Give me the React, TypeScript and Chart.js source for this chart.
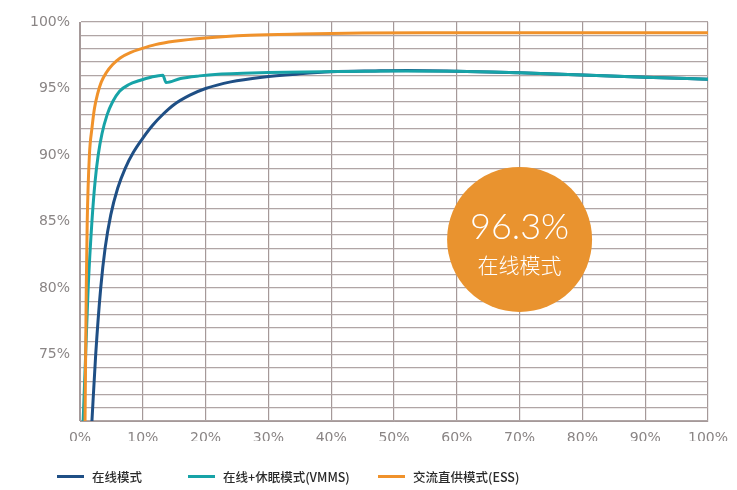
import React, { useEffect, useRef } from "react";
import { Chart, registerables } from "chart.js";

Chart.register(...registerables);

// ---- data ----
const seriesNames = ["在线模式", "在线+休眠模式(VMMS)", "交流直供模式(ESS)"];
const seriesColors = ["#1f4f85", "#17a3a7", "#f0922b"];

const onlineX = [1.9, 2.5, 3.3, 4.0, 4.9, 6.0, 7.2, 8.5, 9.9, 11.5, 13.3, 15, 17.5, 20, 24, 29, 35, 40, 47, 52, 60, 70, 80, 90, 100];
const onlineY = [70, 75, 80, 83, 85.5, 87.5, 89, 90.2, 91.2, 92.2, 93.1, 93.8, 94.5, 95.0, 95.5, 95.85, 96.1, 96.25, 96.32, 96.35, 96.3, 96.18, 96.02, 95.85, 95.7];

const vmmsX = [0.5, 0.9, 1.3, 1.9, 2.4, 2.9, 3.5, 4.3, 5.2, 6.3, 7.8, 9.5, 11.3, 13.2, 13.7, 16, 19, 22, 26, 30, 40, 50, 60, 70, 80, 90, 100];
const vmmsY = [70, 75, 80, 85, 88, 90, 91.6, 93, 94, 94.8, 95.3, 95.6, 95.85, 96.0, 95.45, 95.75, 95.95, 96.08, 96.15, 96.2, 96.27, 96.32, 96.3, 96.18, 96.02, 95.85, 95.7];

const essX = [0.8, 1.0, 1.15, 1.5, 1.9, 2.3, 2.8, 3.4, 4.2, 5.2, 6.4, 8, 9.8, 12, 15, 20, 27, 35, 45, 55, 70, 85, 100];
const essY = [70, 80, 85, 90, 92, 93.5, 94.6, 95.5, 96.2, 96.8, 97.3, 97.7, 98.0, 98.3, 98.55, 98.8, 99.0, 99.1, 99.17, 99.2, 99.2, 99.2, 99.2];

const xTickStep = 10;
const yLabelStep = 5;
const yMin = 70;
const yMax = 100;

const badgeValue = "96.3%";
const badgeLabel = "在线模式";
const badgeX = 70;
const badgeY = 83.65;

function toPoints(xs: number[], ys: number[]) {
  return xs.map((x, i) => ({ x, y: ys[i] }));
}

const badgePlugin = {
  id: "badge",
  afterDatasetsDraw(chart: any) {
    const { ctx, scales } = chart;
    const cx = scales.x.getPixelForValue(badgeX);
    const cy = scales.y.getPixelForValue(badgeY);
    ctx.save();
    ctx.beginPath();
    ctx.arc(cx, cy, 72.5, 0, Math.PI * 2);
    ctx.fillStyle = "#e9932f";
    ctx.fill();
    ctx.fillStyle = "#ffffff";
    ctx.textAlign = "center";
    ctx.textBaseline = "middle";
    ctx.font = "300 36px Lato, 'Open Sans', sans-serif";
    ctx.fillText(badgeValue, cx, cy - 12);
    ctx.font = "300 21px 'Noto Sans CJK SC', sans-serif";
    ctx.fillText(badgeLabel, cx, cy + 26);
    ctx.restore();
  },
};

export default function App() {
  const canvasRef = useRef<HTMLCanvasElement | null>(null);

  useEffect(() => {
    const canvas = canvasRef.current;
    if (!canvas) return;
    const gridColor = "#b0a5a5";
    const tickFont = { family: "'DejaVu Sans', sans-serif", size: 14 };
    const chart = new Chart(canvas, {
      type: "line",
      data: {
        datasets: [
          { label: seriesNames[0], data: toPoints(onlineX, onlineY), borderColor: seriesColors[0], order: 3 },
          { label: seriesNames[1], data: toPoints(vmmsX, vmmsY), borderColor: seriesColors[1], order: 2 },
          { label: seriesNames[2], data: toPoints(essX, essY), borderColor: seriesColors[2], order: 1 },
        ].map((d) => ({
          ...d,
          borderWidth: 3,
          pointRadius: 0,
          fill: false,
          cubicInterpolationMode: "monotone" as const,
          tension: 0.4,
        })),
      },
      options: {
        animation: false,
        responsive: false,
        maintainAspectRatio: false,
        layout: { padding: { top: 22, right: 25, left: 0, bottom: 49 } },
        plugins: { legend: { display: false }, tooltip: { enabled: false } },
        scales: {
          x: {
            type: "linear",
            min: 0,
            max: 100,
            afterFit: (s: any) => {
              s.height = 20;
            },
            grid: { color: "#a59999", lineWidth: 1.2, drawTicks: false },
            border: { display: true, color: "#a59999" },
            ticks: {
              stepSize: xTickStep,
              padding: 9,
              color: "#8a8585",
              font: tickFont,
              maxRotation: 0,
              autoSkip: false,
              callback: (v: any) => v + "%",
            },
          },
          y: {
            type: "linear",
            min: yMin,
            max: yMax,
            afterFit: (s: any) => {
              s.width = 80;
            },
            grid: { color: gridColor, lineWidth: 1.2, drawTicks: false },
            border: { display: true, color: "#a59999" },
            ticks: {
              stepSize: 1,
              padding: 10,
              color: "#8a8585",
              font: tickFont,
              autoSkip: false,
              callback: (v: any) => (Number(v) % yLabelStep === 0 && Number(v) > yMin ? v + "%" : ""),
            },
          },
        },
      },
      plugins: [badgePlugin],
    });
    return () => chart.destroy();
  }, []);

  const legendLeft = [57, 188, 378];
  return (
    <div style={{ position: "fixed", left: 0, top: 0, width: 737, height: 490, background: "#ffffff" }}>
      <canvas ref={canvasRef} width={737} height={490} style={{ position: "absolute", left: 0, top: 0 }} />
      {seriesNames.map((name, i) => (
        <div
          key={name}
          style={{
            position: "absolute",
            left: legendLeft[i],
            top: 466,
            height: 20,
            display: "flex",
            alignItems: "center",
            fontFamily: "'Noto Sans CJK SC', sans-serif",
            fontSize: 12.5,
            fontWeight: 500,
            color: "#2a2a2a",
            whiteSpace: "nowrap",
          }}
        >
          <span style={{ display: "inline-block", width: 27, height: 3, background: seriesColors[i], marginRight: 8 }} />
          <span>{name}</span>
        </div>
      ))}
    </div>
  );
}
